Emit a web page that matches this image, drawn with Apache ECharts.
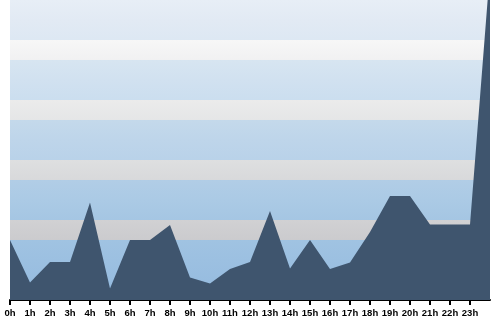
<!DOCTYPE html>
<html>
<head>
<meta charset="utf-8">
<script src="https://cdn.jsdelivr.net/npm/echarts@6/dist/echarts.min.js"></script>
<style>
html,body{margin:0;padding:0;background:#fff;}
#chart{width:500px;height:320px;}
</style>
</head>
<body>
<div id="chart"></div>
<script>
// Data
var hours = ['0h','1h','2h','3h','4h','5h','6h','7h','8h','9h','10h','11h','12h','13h','14h','15h','16h','17h','18h','19h','20h','21h','22h','23h',''];
var values = [30, 8.7, 19, 19, 48.7, 5.8, 30, 30, 37.5, 11.2, 8.2, 15.5, 19, 44.5, 15.8, 30, 15.5, 18.8, 34, 52, 52, 37.8, 37.8, 37.8, 165];
var yMin = 0, yMax = 150, yStep = 10;
// band colours, bottom to top (one pair [top, bottom] per 10-unit band)
var bandColors = [
  ['#98bde0', '#8db6db'],
  ['#9cc0e1', '#98bde0'],
  ['#a0c3e2', '#9cc0e1'],
  ['#d1d1d3', '#cbcbce'],
  ['#abcae5', '#a5c6e3'],
  ['#b1cde6', '#abcae5'],
  ['#dedfe0', '#d8d9db'],
  ['#bed5ea', '#b9d2e9'],
  ['#c4d9eb', '#bed5ea'],
  ['#ebebeb', '#e5e6e7'],
  ['#d1e1f0', '#cbdeef'],
  ['#d7e5f1', '#d1e1f0'],
  ['#f7f7f7', '#f1f1f2'],
  ['#e2eaf4', '#dde8f3'],
  ['#e7eef6', '#e2eaf4']
];

function grad(pair){
  return {type:'linear', x:0, y:0, x2:0, y2:1, colorStops:[{offset:0,color:pair[0]},{offset:1,color:pair[1]}]};
}

var chart = echarts.init(document.getElementById('chart'), null, {renderer:'canvas'});
chart.setOption({
  animation:false,
  grid:{left:10, right:10, top:0, bottom:20, containLabel:false},
  xAxis:{
    type:'category',
    data:hours,
    boundaryGap:false,
    axisLine:{show:true, lineStyle:{color:'#000', width:2}},
    axisTick:{show:true, length:5, lineStyle:{color:'#000', width:2}, interval:function(i){return i < hours.length-1;}},
    axisLabel:{show:true, interval:0, color:'#000', fontWeight:'bold', fontSize:9.5, fontFamily:'"Liberation Sans", Arial, sans-serif', margin:8},
    splitLine:{show:false}
  },
  yAxis:{
    type:'value',
    min:yMin, max:yMax, interval:yStep,
    axisLine:{show:false}, axisTick:{show:false}, axisLabel:{show:false},
    splitLine:{show:false},
    splitArea:{show:true, areaStyle:{color:bandColors.map(grad)}}
  },
  series:[{
    type:'line',
    data:values,
    symbol:'none',
    smooth:false,
    clip:true,
    lineStyle:{width:0, color:'#3f556e'},
    areaStyle:{color:'#3f556e', opacity:1}
  }]
});
</script>
</body>
</html>
